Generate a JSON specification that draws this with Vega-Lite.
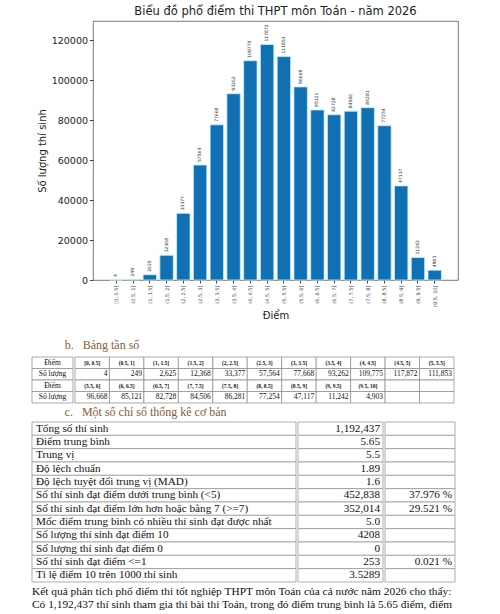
{
  "$schema": "https://vega.github.io/schema/vega-lite/v6.json",
  "padding": {"left": 31, "top": 5, "right": 5, "bottom": 0},
  "background": "white",
  "config": {"view": {"stroke": null}, "font": "Liberation Serif"},
  "spacing": 17,
  "vconcat": [
    {
      "spacing": 0,
      "bounds": "flush",
      "hconcat": [
        {"width": 61, "height": 259, "data": {"values": []}, "mark": "rect"},
        {
          "width": 365,
          "height": 259,
          "title": {"text": "Biểu đồ phổ điểm thi THPT môn Toán - năm 2026", "font": "DejaVu Sans", "fontSize": 11.5, "fontWeight": "normal", "color": "#222", "frame": "group", "anchor": "middle", "offset": 4},
          "view": {"stroke": "#555", "strokeWidth": 0.8},
          "data": {"values": [
            {"bin": "[0, 0.5]", "count": 4},
            {"bin": "(0.5, 1]", "count": 249},
            {"bin": "(1, 1.5]", "count": 2625},
            {"bin": "(1.5, 2]", "count": 12368},
            {"bin": "(2, 2.5]", "count": 33377},
            {"bin": "(2.5, 3]", "count": 57564},
            {"bin": "(3, 3.5]", "count": 77668},
            {"bin": "(3.5, 4]", "count": 93262},
            {"bin": "(4, 4.5]", "count": 109775},
            {"bin": "(4.5, 5]", "count": 117872},
            {"bin": "(5, 5.5]", "count": 111853},
            {"bin": "(5.5, 6]", "count": 96668},
            {"bin": "(6, 6.5]", "count": 85121},
            {"bin": "(6.5, 7]", "count": 82728},
            {"bin": "(7, 7.5]", "count": 84506},
            {"bin": "(7.5, 8]", "count": 86281},
            {"bin": "(8, 8.5]", "count": 77254},
            {"bin": "(8.5, 9]", "count": 47117},
            {"bin": "(9, 9.5]", "count": 11242},
            {"bin": "(9.5, 10]", "count": 4903}
          ]},
          "encoding": {
            "x": {"field": "bin", "type": "nominal", "sort": null,
              "scale": {"paddingInner": 0.2, "paddingOuter": 0.99},
              "axis": {"title": "Điểm", "titleFont": "DejaVu Sans", "titleFontSize": 10, "titleFontWeight": "normal", "titleColor": "#222", "titlePadding": 4,
                "labelFont": "DejaVu Sans", "labelFontSize": 5, "labelAngle": 270, "labelColor": "#444", "labelPadding": 2,
                "tickSize": 3, "tickColor": "#444", "domain": false}},
            "y": {"field": "count", "type": "quantitative",
              "scale": {"domain": [0, 129659]},
              "axis": {"title": "Số lượng thí sinh", "titleFont": "DejaVu Sans", "titleFontSize": 10, "titleFontWeight": "normal", "titleColor": "#222", "titlePadding": 4,
                "labelFont": "DejaVu Sans", "labelFontSize": 9.5, "labelColor": "#222", "labelPadding": 2,
                "values": [0, 20000, 40000, 60000, 80000, 100000, 120000], "format": "d",
                "grid": false, "domain": false, "tickSize": 3.5, "tickColor": "#444"}}
          },
          "layer": [
            {"mark": {"type": "bar", "color": "#1170b4", "stroke": "#c4efff", "strokeWidth": 0.8}},
            {"mark": {"type": "text", "angle": 270, "align": "left", "baseline": "middle", "dx": 3, "fontSize": 4.5, "font": "DejaVu Sans", "color": "#333"},
             "encoding": {"text": {"field": "count", "type": "quantitative", "format": "d"}}}
          ]
        }
      ]
    },
    {
      "spacing": 1,
      "vconcat": [
        {
          "title": {"text": "b.\u00a0\u00a0\u00a0Bảng tần số", "anchor": "start", "dx": 33, "fontSize": 12, "font": "Liberation Serif", "fontWeight": "normal", "color": "#8c5a36", "offset": 5},
          "spacing": 0,
          "hconcat": [
            {
              "width": 41, "height": 46,
              "data": {"values": [
                {"row": 1, "head": "Điểm"},
                {"row": 2, "head": "Số lượng"},
                {"row": 3, "head": "Điểm"},
                {"row": 4, "head": "Số lượng"}
              ]},
              "encoding": {"y": {"field": "row", "type": "ordinal", "axis": null, "scale": {"paddingInner": 0, "paddingOuter": 0}}},
              "layer": [
                {"mark": {"type": "rect", "fill": "white", "stroke": "#888", "strokeWidth": 0.7}},
                {"mark": {"type": "text", "fontSize": 7.5, "font": "Liberation Serif", "color": "#111"}, "encoding": {"text": {"field": "head"}}}
              ]
            },
            {
              "width": 379, "height": 46,
              "data": {"values": [
                {"row": 1, "col": 1, "kind": "bin", "t": "[0, 0.5]"},
                {"row": 1, "col": 2, "kind": "bin", "t": "(0.5, 1]"},
                {"row": 1, "col": 3, "kind": "bin", "t": "(1, 1.5]"},
                {"row": 1, "col": 4, "kind": "bin", "t": "(1.5, 2]"},
                {"row": 1, "col": 5, "kind": "bin", "t": "(2, 2.5]"},
                {"row": 1, "col": 6, "kind": "bin", "t": "(2.5, 3]"},
                {"row": 1, "col": 7, "kind": "bin", "t": "(3, 3.5]"},
                {"row": 1, "col": 8, "kind": "bin", "t": "(3.5, 4]"},
                {"row": 1, "col": 9, "kind": "bin", "t": "(4, 4.5]"},
                {"row": 1, "col": 10, "kind": "bin", "t": "(4.5, 5]"},
                {"row": 1, "col": 11, "kind": "bin", "t": "(5, 5.5]"},
                {"row": 2, "col": 1, "kind": "num", "t": "4"},
                {"row": 2, "col": 2, "kind": "num", "t": "249"},
                {"row": 2, "col": 3, "kind": "num", "t": "2,625"},
                {"row": 2, "col": 4, "kind": "num", "t": "12,368"},
                {"row": 2, "col": 5, "kind": "num", "t": "33,377"},
                {"row": 2, "col": 6, "kind": "num", "t": "57,564"},
                {"row": 2, "col": 7, "kind": "num", "t": "77,668"},
                {"row": 2, "col": 8, "kind": "num", "t": "93,262"},
                {"row": 2, "col": 9, "kind": "num", "t": "109,775"},
                {"row": 2, "col": 10, "kind": "num", "t": "117,872"},
                {"row": 2, "col": 11, "kind": "num", "t": "111,853"},
                {"row": 3, "col": 1, "kind": "bin", "t": "(5.5, 6]"},
                {"row": 3, "col": 2, "kind": "bin", "t": "(6, 6.5]"},
                {"row": 3, "col": 3, "kind": "bin", "t": "(6.5, 7]"},
                {"row": 3, "col": 4, "kind": "bin", "t": "(7, 7.5]"},
                {"row": 3, "col": 5, "kind": "bin", "t": "(7.5, 8]"},
                {"row": 3, "col": 6, "kind": "bin", "t": "(8, 8.5]"},
                {"row": 3, "col": 7, "kind": "bin", "t": "(8.5, 9]"},
                {"row": 3, "col": 8, "kind": "bin", "t": "(9, 9.5]"},
                {"row": 3, "col": 9, "kind": "bin", "t": "(9.5, 10]"},
                {"row": 3, "col": 10, "kind": "bin", "t": ""},
                {"row": 3, "col": 11, "kind": "bin", "t": ""},
                {"row": 4, "col": 1, "kind": "num", "t": "96,668"},
                {"row": 4, "col": 2, "kind": "num", "t": "85,121"},
                {"row": 4, "col": 3, "kind": "num", "t": "82,728"},
                {"row": 4, "col": 4, "kind": "num", "t": "84,506"},
                {"row": 4, "col": 5, "kind": "num", "t": "86,281"},
                {"row": 4, "col": 6, "kind": "num", "t": "77,254"},
                {"row": 4, "col": 7, "kind": "num", "t": "47,117"},
                {"row": 4, "col": 8, "kind": "num", "t": "11,242"},
                {"row": 4, "col": 9, "kind": "num", "t": "4,903"},
                {"row": 4, "col": 10, "kind": "num", "t": ""},
                {"row": 4, "col": 11, "kind": "num", "t": ""}
              ]},
              "encoding": {
                "x": {"field": "col", "type": "ordinal", "axis": null, "scale": {"type": "band", "paddingInner": 0, "paddingOuter": 0}},
                "y": {"field": "row", "type": "ordinal", "axis": null, "scale": {"paddingInner": 0, "paddingOuter": 0}}
              },
              "layer": [
                {"mark": {"type": "rect", "fill": "white", "stroke": "#888", "strokeWidth": 0.7}},
                {"transform": [{"filter": "datum.kind == 'bin'"}],
                 "mark": {"type": "text", "fontSize": 5.5, "fontWeight": "bold", "font": "Liberation Serif", "color": "#111"},
                 "encoding": {"text": {"field": "t"}}},
                {"transform": [{"filter": "datum.kind == 'num'"}],
                 "mark": {"type": "text", "fontSize": 7.5, "align": "right", "dx": -2, "font": "Liberation Serif", "color": "#111"},
                 "encoding": {"x": {"field": "col", "type": "ordinal", "bandPosition": 1}, "text": {"field": "t"}}}
              ]
            }
          ]
        },
        {
          "spacing": 2,
          "vconcat": [
            {
              "title": {"text": "c.\u00a0\u00a0\u00a0Một số chỉ số thống kê cơ bản", "anchor": "start", "dx": 33, "fontSize": 12, "font": "Liberation Serif", "fontWeight": "normal", "color": "#8c5a36", "offset": 3},
              "spacing": 0,
              "data": {"values": [
                {"i": 1, "stat": "Tổng số thí sinh", "value": "1,192,437", "pct": ""},
                {"i": 2, "stat": "Điểm trung bình", "value": "5.65", "pct": ""},
                {"i": 3, "stat": "Trung vị", "value": "5.5", "pct": ""},
                {"i": 4, "stat": "Độ lệch chuẩn", "value": "1.89", "pct": ""},
                {"i": 5, "stat": "Độ lệch tuyệt đối trung vị (MAD)", "value": "1.6", "pct": ""},
                {"i": 6, "stat": "Số thí sinh đạt điểm dưới trung bình (<5)", "value": "452,838", "pct": "37.976 %"},
                {"i": 7, "stat": "Số thí sinh đạt điểm lớn hơn hoặc bằng 7 (>=7)", "value": "352,014", "pct": "29.521 %"},
                {"i": 8, "stat": "Mốc điểm trung bình có nhiều thí sinh đạt được nhất", "value": "5.0", "pct": ""},
                {"i": 9, "stat": "Số lượng thí sinh đạt điểm 10", "value": "4208", "pct": ""},
                {"i": 10, "stat": "Số lượng thí sinh đạt điểm 0", "value": "0", "pct": ""},
                {"i": 11, "stat": "Số thí sinh đạt điểm <=1", "value": "253", "pct": "0.021 %"},
                {"i": 12, "stat": "Tỉ lệ điểm 10 trên 1000 thí sinh", "value": "3.5289", "pct": ""}
              ]},
              "hconcat": [
                {
                  "width": 264, "height": 160,
                  "encoding": {
                    "x": {"datum": "a", "type": "nominal", "axis": null, "scale": {"type": "band", "paddingInner": 0, "paddingOuter": 0}},
                    "y": {"field": "i", "type": "ordinal", "axis": null, "scale": {"paddingInner": 0, "paddingOuter": 0}}
                  },
                  "layer": [
                    {"mark": {"type": "rect", "fill": "white", "stroke": "#999", "strokeWidth": 0.8}},
                    {"mark": {"type": "text", "fontSize": 11.2, "align": "left", "dx": 4, "font": "Liberation Serif", "color": "#111"},
                     "encoding": {"x": {"datum": "a", "type": "nominal", "bandPosition": 0}, "text": {"field": "stat"}}}
                  ]
                },
                {
                  "width": 85, "height": 160,
                  "encoding": {
                    "x": {"datum": "b", "type": "nominal", "axis": null, "scale": {"type": "band", "paddingInner": 0, "paddingOuter": 0}},
                    "y": {"field": "i", "type": "ordinal", "axis": null, "scale": {"paddingInner": 0, "paddingOuter": 0}}
                  },
                  "layer": [
                    {"mark": {"type": "rect", "fill": "white", "stroke": "#999", "strokeWidth": 0.8}},
                    {"mark": {"type": "text", "fontSize": 11.2, "align": "right", "dx": -3, "font": "Liberation Serif", "color": "#111"},
                     "encoding": {"x": {"datum": "b", "type": "nominal", "bandPosition": 1}, "text": {"field": "value"}}}
                  ]
                },
                {
                  "width": 70, "height": 160,
                  "encoding": {
                    "x": {"datum": "c", "type": "nominal", "axis": null, "scale": {"type": "band", "paddingInner": 0, "paddingOuter": 0}},
                    "y": {"field": "i", "type": "ordinal", "axis": null, "scale": {"paddingInner": 0, "paddingOuter": 0}}
                  },
                  "layer": [
                    {"mark": {"type": "rect", "fill": "white", "stroke": "#999", "strokeWidth": 0.8}},
                    {"mark": {"type": "text", "fontSize": 11.2, "align": "right", "dx": -3, "font": "Liberation Serif", "color": "#111"},
                     "encoding": {"x": {"datum": "c", "type": "nominal", "bandPosition": 1}, "text": {"field": "pct"}}}
                  ]
                }
              ]
            },
            {
              "width": 420, "height": 26,
              "data": {"values": [
                {"line": 1, "text": "Kết quả phân tích phổ điểm thi tốt nghiệp THPT môn Toán của cả nước năm 2026 cho thấy:"},
                {"line": 2, "text": "Có 1,192,437 thí sinh tham gia thi bài thi Toán, trong đó điểm trung bình là 5.65 điểm, điểm"}
              ]},
              "mark": {"type": "text", "align": "left", "fontSize": 11.4, "font": "Liberation Serif", "color": "#111"},
              "encoding": {
                "x": {"datum": "p", "type": "nominal", "bandPosition": 0, "axis": null, "scale": {"type": "band", "paddingInner": 0, "paddingOuter": 0}},
                "y": {"field": "line", "type": "ordinal", "axis": null, "scale": {"paddingInner": 0, "paddingOuter": 0}},
                "text": {"field": "text"}
              }
            }
          ]
        }
      ]
    }
  ]
}
